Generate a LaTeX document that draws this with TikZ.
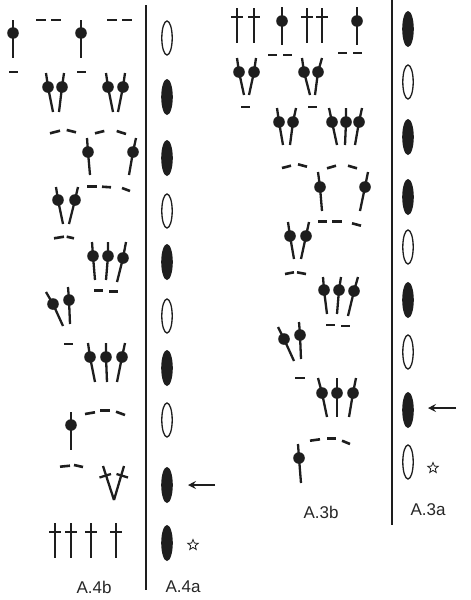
\documentclass[tikz,border=0pt]{standalone}
\usepackage{fontspec}
\setmainfont{Liberation Sans}
\usetikzlibrary{arrows.meta,shapes.geometric}
\definecolor{ink}{HTML}{1E1E1E}
\newcommand\Bob[3]{\draw[stem] #1 -- #2 -- #3; \fill[ink] #2 circle[radius=5.8pt];}
\newcommand\Trb[2]{\draw[stem] (#1,#2) -- ++(0,35); \draw[stem] (#1-6,#2+9) -- (#1+6,#2+9);}
\newcommand\Ch[2]{\draw[chs] #1 -- #2;}
\newcommand\FEl[2]{\fill[ink] (#1,#2) ellipse[x radius=5.8pt, y radius=18pt];}
\newcommand\OEl[2]{\draw[ink, line width=1.3pt] (#1,#2) ellipse[x radius=5.2pt, y radius=17pt];}
\begin{document}
\begin{tikzpicture}[x=1pt,y=-1pt,
  stem/.style={draw=ink, line width=2.3pt},
  chs/.style={draw=ink, line width=2.6pt},
  divider/.style={draw=ink, line width=2.6pt},
  pointer/.style={draw=ink, line width=1.8pt, -{Stealth[length=8pt,width=8pt,inset=3pt]}},
  lbl/.style={font=\fontsize{17}{20}\selectfont, text=black!85, inner sep=0pt},
  staro/.style={star, star points=5, star point ratio=2.3, draw=ink, line width=0.8pt, minimum size=11pt, inner sep=0pt}]
\useasboundingbox (0,0) rectangle (471,600);
% ---------------- A.4b ----------------
\Bob{(13,20)}{(13,33)}{(13,58)}
\Ch{(36,20)}{(46,20)} \Ch{(51,20)}{(61,20)}
\Bob{(81,20)}{(81,33)}{(81,58)}
\Ch{(107,20)}{(117,20)} \Ch{(122,20)}{(132,20)}
\Ch{(9,72)}{(18,72)} \Ch{(77,72)}{(86,72)}
\Bob{(46,73)}{(48,87)}{(53,112)}
\Bob{(64,73)}{(62,87)}{(59,112)}
\Bob{(106,73)}{(108,87)}{(113,112)}
\Bob{(125,73)}{(123,87)}{(118,112)}
\Ch{(50,133.3)}{(60,130.7)} \Ch{(66.7,130)}{(76,132.3)}
\Ch{(95,133.3)}{(104.3,131)} \Ch{(116.7,131)}{(126,134)}
\Bob{(87,138)}{(88,152)}{(90,175)}
\Bob{(136,138)}{(133,152)}{(129,175)}
\Ch{(87,186.7)}{(97,186.7)} \Ch{(102,186.7)}{(111,187.3)} \Ch{(122,188)}{(130,191)}
\Bob{(56,187)}{(58,200)}{(63,224)}
\Bob{(78,187)}{(75,200)}{(69,224)}
\Ch{(54,238.3)}{(64,236.7)} \Ch{(66.7,236.7)}{(74,238.3)}
\Bob{(92,242)}{(93,256)}{(95,280)}
\Bob{(108,242)}{(108,256)}{(106,280)}
\Bob{(126,242)}{(123,258)}{(117,282)}
\Ch{(94,290.7)}{(103,290.7)} \Ch{(109,291.7)}{(118,291.7)}
\Bob{(46,292)}{(53,304)}{(63,326)}
\Bob{(68,287)}{(69,300)}{(70,324)}
\Ch{(64,344)}{(73,344)}
\Bob{(88,343)}{(90,357)}{(95,382)}
\Bob{(106,343)}{(106,357)}{(107,382)}
\Bob{(125,343)}{(122,357)}{(117,382)}
\Ch{(85,414)}{(95,412.3)} \Ch{(100,410.7)}{(110,410.7)} \Ch{(116,411.7)}{(125,415)}
\Bob{(71,412)}{(71,425)}{(71,450)}
\Ch{(60,466.7)}{(70,465.7)} \Ch{(74,465)}{(83,467)}
\draw[stem] (103,466) -- (114,500);
\draw[stem] (124,466) -- (114,500);
\draw[stem] (99.5,477.5) -- (111,474);
\draw[stem] (116.5,474) -- (128,477.5);
\Trb{55}{523} \Trb{71}{523} \Trb{91}{523} \Trb{116}{523}
\node[lbl] (l4b) at (94,587) {A.4b};
% ---------------- A.4a ----------------
\draw[divider] (146,5) -- (146,590);
\OEl{167}{38} \FEl{167}{97} \FEl{167}{158} \OEl{167}{211} \FEl{167}{262}
\OEl{167}{316} \FEl{167}{368} \OEl{167}{420} \FEl{167}{485} \FEl{167}{543}
\coordinate (a4s) at (215,485); \coordinate (a4e) at (188,485);
\draw[pointer] (a4s) -- (a4e);
\node[staro] (s4) at (193,545) {};
\node[lbl] (l4a) at (183,587) {A.4a};
% ---------------- A.3b ----------------
\Trb{237}{8} \Trb{254}{8} \Trb{307}{8} \Trb{322}{8}
\Bob{(282,7)}{(282,21)}{(282,45)}
\Bob{(357,7)}{(357,21)}{(357,45)}
\Ch{(268,55)}{(277,55)} \Ch{(283,55)}{(292,55)}
\Ch{(338,53)}{(347,53)} \Ch{(353,53)}{(362,53)}
\Bob{(237,58)}{(239,72)}{(244,95)}
\Bob{(256,58)}{(254,72)}{(249,95)}
\Ch{(241,107)}{(250,107)}
\Bob{(302,58)}{(304,72)}{(310,95)}
\Bob{(322,58)}{(318,72)}{(315,95)}
\Ch{(308,107)}{(317,107)}
\Bob{(277,108)}{(279,122)}{(283,145)}
\Bob{(296,108)}{(293,122)}{(290,145)}
\Bob{(329,108)}{(332,122)}{(337,145)}
\Bob{(346,108)}{(346,122)}{(345,145)}
\Bob{(362,108)}{(359,122)}{(355,145)}
\Ch{(282,168)}{(291,165.7)} \Ch{(298,164.3)}{(307,166.7)}
\Ch{(327,168.3)}{(336,165.7)} \Ch{(348,165.7)}{(357,168.3)}
\Bob{(318,172)}{(320,187)}{(322,211)}
\Bob{(368,172)}{(365,187)}{(360,211)}
\Ch{(318,221.7)}{(327,221.7)} \Ch{(332,221.7)}{(342,221.7)} \Ch{(352,223.3)}{(361,225.7)}
\Bob{(288,222)}{(290,236)}{(294,259)}
\Bob{(309,222)}{(306,236)}{(301,259)}
\Ch{(285,274)}{(294,272.3)} \Ch{(297,272.3)}{(306,274)}
\Bob{(323,277)}{(324,290)}{(327,314)}
\Bob{(341,277)}{(339,290)}{(337,314)}
\Bob{(358,277)}{(354,291)}{(348,316)}
\Ch{(326,325)}{(335,325)} \Ch{(341,326)}{(350,326)}
\Bob{(278,327)}{(284,339)}{(294,361)}
\Bob{(299,322)}{(300,335)}{(301,359)}
\Ch{(295,378)}{(305,378)}
\Bob{(318,378)}{(322,393)}{(327,417)}
\Bob{(337,378)}{(337,393)}{(337,417)}
\Bob{(356,378)}{(353,393)}{(349,417)}
\Ch{(310,440.7)}{(320,439.3)} \Ch{(327,438.3)}{(336,438.3)} \Ch{(342,440.7)}{(350,444)}
\Bob{(298,444)}{(299,458)}{(301,483)}
\node[lbl] (l3b) at (321,512) {A.3b};
% ---------------- A.3a ----------------
\draw[divider] (392,0) -- (392,525);
\FEl{408}{29} \OEl{408}{82} \FEl{408}{137} \FEl{408}{197} \OEl{408}{247}
\FEl{408}{300} \OEl{408}{352} \FEl{408}{410} \OEl{408}{462}
\coordinate (a3s) at (456,408); \coordinate (a3e) at (428,408);
\draw[pointer] (a3s) -- (a3e);
\node[staro] (s3) at (433,468) {};
\node[lbl] (l3a) at (428,510) {A.3a};
\end{tikzpicture}
\end{document}
